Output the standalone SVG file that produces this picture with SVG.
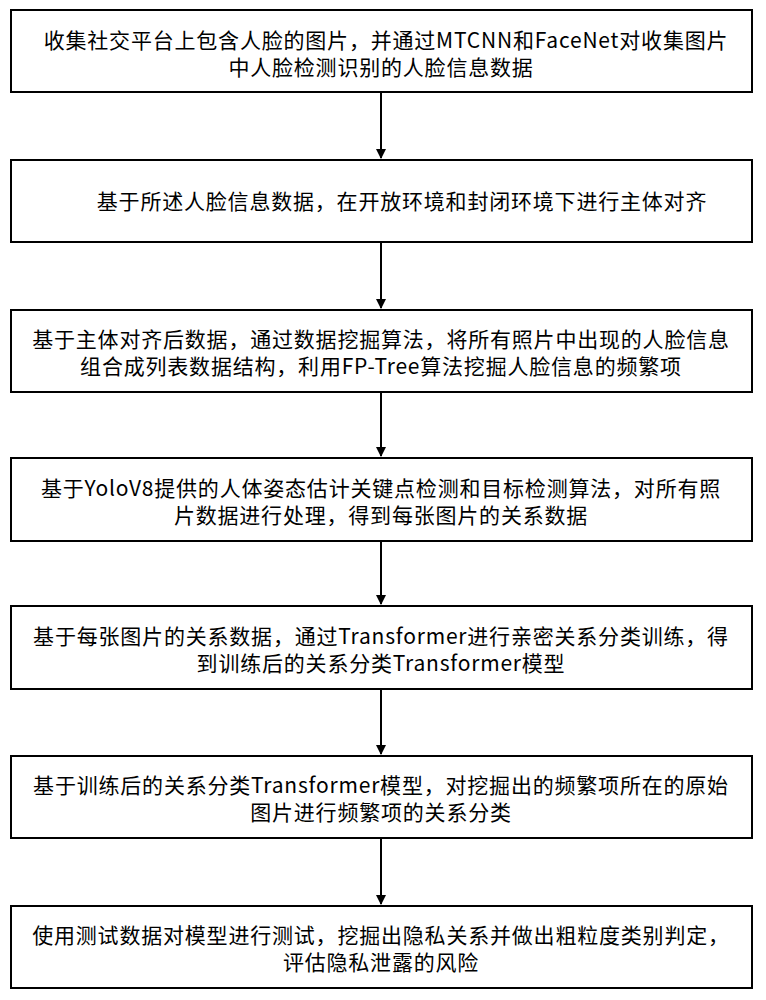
<svg xmlns="http://www.w3.org/2000/svg" width="766" height="1000" viewBox="0 0 766 1000">
<style>
.b{fill:#fff;stroke:#000;stroke-width:2}
.t{font-family:"Noto Sans CJK SC","Noto Sans",sans-serif;font-size:21px;letter-spacing:0.8px;text-anchor:middle;fill:#000}
.c{stroke:#000;stroke-width:2;fill:none;marker-end:url(#a)}
</style>
<defs><marker id="a" markerWidth="10" markerHeight="10" refX="9" refY="5" orient="auto" markerUnits="userSpaceOnUse"><path d="M0,0 L10,5 L0,10 Z" fill="#000"/></marker></defs>
<rect width="766" height="1000" fill="#fff"/>
<g id="connectors">
<path class="c" d="M381,92 V158"/>
<path class="c" d="M381,242 V308"/>
<path class="c" d="M381,392 V456"/>
<path class="c" d="M381,541 V604"/>
<path class="c" d="M381,689 V754"/>
<path class="c" d="M381,838 V904"/>
</g>
<g id="n1"><rect class="b" x="11" y="10" width="741" height="82"/><text class="t" x="386" y="48">收集社交平台上包含人脸的图片，并通过MTCNN和FaceNet对收集图片</text><text class="t" x="381" y="75">中人脸检测识别的人脸信息数据</text></g>
<g id="n2"><rect class="b" x="11" y="160" width="741" height="82"/><text class="t" x="402" y="209">基于所述人脸信息数据，在开放环境和封闭环境下进行主体对齐</text></g>
<g id="n3"><rect class="b" x="11" y="310" width="741" height="82"/><text class="t" x="381" y="347">基于主体对齐后数据，通过数据挖掘算法，将所有照片中出现的人脸信息</text><text class="t" x="381" y="374">组合成列表数据结构，利用FP-Tree算法挖掘人脸信息的频繁项</text></g>
<g id="n4"><rect class="b" x="11" y="458" width="741" height="83"/><text class="t" x="381" y="496">基于YoloV8提供的人体姿态估计关键点检测和目标检测算法，对所有照</text><text class="t" x="381" y="523">片数据进行处理，得到每张图片的关系数据</text></g>
<g id="n5"><rect class="b" x="11" y="606" width="741" height="83"/><text class="t" x="381" y="644">基于每张图片的关系数据，通过Transformer进行亲密关系分类训练，得</text><text class="t" x="381" y="671">到训练后的关系分类Transformer模型</text></g>
<g id="n6"><rect class="b" x="11" y="756" width="741" height="82"/><text class="t" x="381" y="793">基于训练后的关系分类Transformer模型，对挖掘出的频繁项所在的原始</text><text class="t" x="381" y="820">图片进行频繁项的关系分类</text></g>
<g id="n7"><rect class="b" x="11" y="906" width="741" height="82"/><text class="t" x="381" y="943">使用测试数据对模型进行测试，挖掘出隐私关系并做出粗粒度类别判定，</text><text class="t" x="381" y="970">评估隐私泄露的风险</text></g>
</svg>
